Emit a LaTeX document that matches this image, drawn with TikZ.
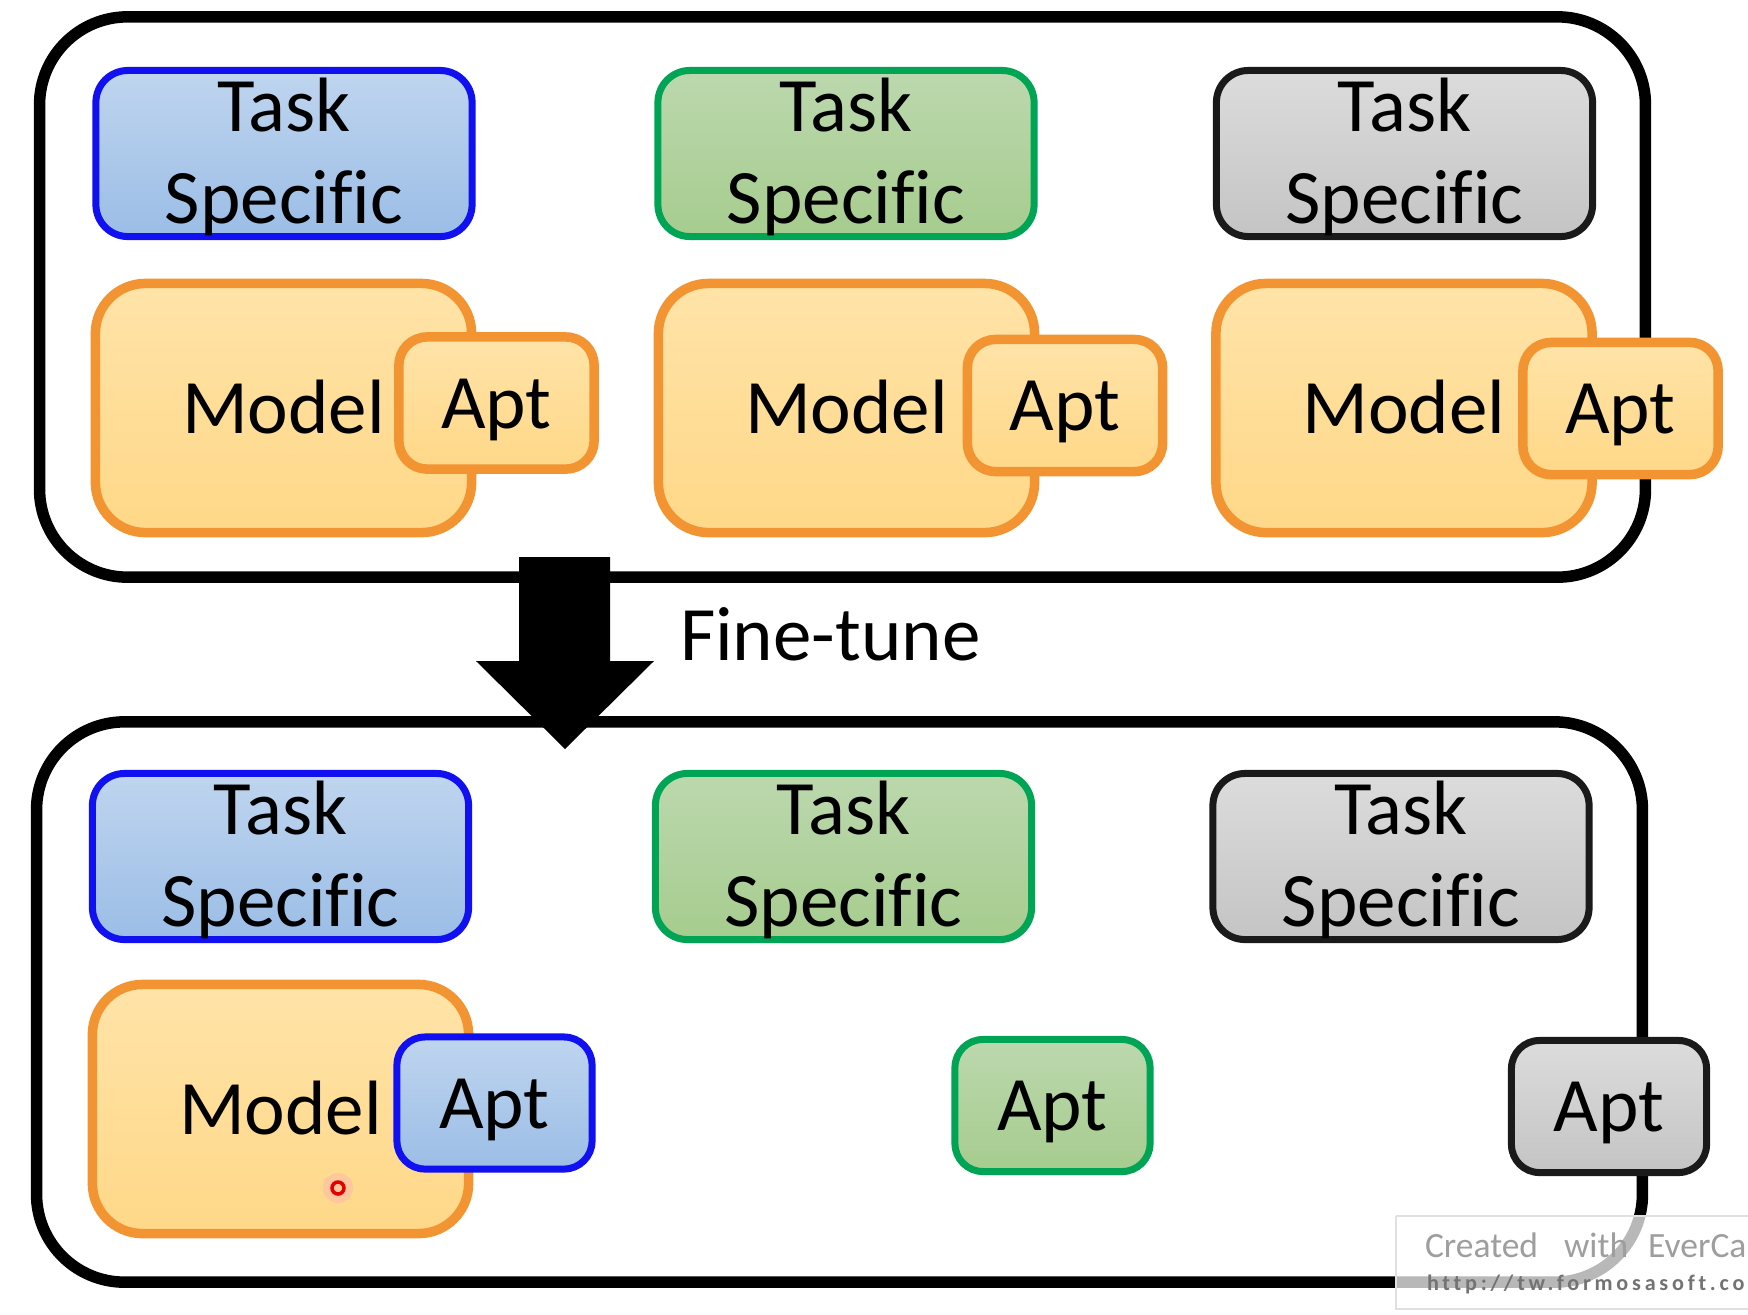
\documentclass[tikz,border=0pt]{standalone}
\usepackage{fontspec}
\setmainfont{Carlito}[Ligatures=NoCommon]
\newfontfamily\wmurl[LetterSpace=17,Ligatures=NoCommon]{Carlito}
\definecolor{blueT}{HTML}{BFD5EF}
\definecolor{blueB}{HTML}{9BBDE6}
\definecolor{blueL}{HTML}{1010F0}
\definecolor{greenT}{HTML}{BCD8AE}
\definecolor{greenB}{HTML}{A6CC8E}
\definecolor{greenL}{HTML}{00A455}
\definecolor{grayT}{HTML}{DCDCDC}
\definecolor{grayB}{HTML}{C4C4C4}
\definecolor{grayL}{HTML}{1A1A1A}
\definecolor{orT}{HTML}{FFE3A8}
\definecolor{orB}{HTML}{FFD888}
\definecolor{orL}{HTML}{F39433}
\begin{document}
\begin{tikzpicture}[x=0.01cm,y=-0.01cm,
  every node/.style={inner sep=0pt,outer sep=0pt},
  bigfont/.style={font=\fontsize{21.9}{26}\selectfont},
  outerbox/.style={draw=black,line width=0.115cm,rounded corners=0.88cm,minimum width=16.05cm,minimum height=5.6cm},
  box/.style={bigfont,text height=0.5cm,text depth=0cm},
  taskbox/.style={box,rounded corners=0.32cm,line width=0.07cm,minimum width=3.76cm,minimum height=1.66cm},
  modelbox/.style={box,draw=orL,top color=orT,bottom color=orB,line width=0.095cm,rounded corners=0.5cm,minimum width=3.76cm,minimum height=2.49cm},
  aptbox/.style={box,rounded corners=0.28cm,minimum width=1.95cm,minimum height=1.32cm},
  cblue/.style={draw=blueL,top color=blueT,bottom color=blueB,line width=0.07cm},
  cgreen/.style={draw=greenL,top color=greenT,bottom color=greenB,line width=0.07cm},
  cgray/.style={draw=grayL,top color=grayT,bottom color=grayB,line width=0.07cm},
  corange/.style={draw=orL,top color=orT,bottom color=orB,line width=0.095cm},
  lbl/.style={bigfont,anchor=base}
]
\useasboundingbox (0,0) rectangle (1748,1314);
\clip (0,0) rectangle (1748,1314);
\fill[white] (0,0) rectangle (1748,1314);

% ---------- top panel ----------
\node[outerbox] (top) at (842.5,297) {};
\node[taskbox,cblue]  (t1) at (284,153.5) {};
\node[taskbox,cgreen] (t2) at (846,153.5) {};
\node[taskbox,cgray]  (t3) at (1404.5,153.5) {};
\foreach \n in {t1,t2,t3}{
  \node[lbl] (\n a) at ([yshift=0.22cm]\n.center) {Task};
  \node[lbl] (\n b) at ([yshift=-0.70cm]\n.center) {Specific};
}
\node[modelbox] (m1) at (283.5,408) {Model};
\node[modelbox] (m2) at (846.5,408) {Model};
\node[modelbox] (m3) at (1404,408) {Model};
\node[aptbox,corange] (a1) at (496.5,403) {Apt};
\node[aptbox,corange] (a2) at (1065,405.5) {Apt};
\node[aptbox,corange] (a3) at (1620.5,408.5) {Apt};

% ---------- bottom panel ----------
\node[outerbox] (bot) at (839.5,1002) {};
\node[taskbox,cblue]  (u1) at (280.5,856.5) {};
\node[taskbox,cgreen] (u2) at (843.5,856.5) {};
\node[taskbox,cgray]  (u3) at (1401,856.5) {};
\foreach \n in {u1,u2,u3}{
  \node[lbl] (\n a) at ([yshift=0.22cm]\n.center) {Task};
  \node[lbl] (\n b) at ([yshift=-0.70cm]\n.center) {Specific};
}
\node[modelbox] (n1) at (280.5,1109) {Model};
\node[aptbox,cblue]  (b1) at (494.5,1103) {Apt};
\node[aptbox,cgreen] (b2) at (1052.5,1105.5) {Apt};
\node[aptbox,cgray]  (b3) at (1609,1106.5) {Apt};

% red pointer mark
\fill[red!30,opacity=0.45] (338,1188) circle (0.15cm);
\draw[red!90!black,line width=0.035cm] (338,1188) circle (0.06cm);

% ---------- fine-tune arrow ----------
\fill[black] (519,557) -- (610,557) -- (610,661) -- (654,661) -- (565,749)
  -- (476,661) -- (519,661) -- cycle;
\node[bigfont,anchor=base west] (ft) at (680,660) {Fine-tune};

% ---------- watermark ----------
\fill[white,opacity=0.72] (1396,1216) rectangle (1760,1309);
\draw[black!12,line width=0.02cm] (1396,1216) -- (1760,1216);
\draw[black!12,line width=0.02cm] (1396,1216) -- (1396,1309) -- (1760,1309);
\node[anchor=base west,text=black!38,font=\fontsize{10.1}{12}\selectfont] (wm1) at (1425,1257)
  {Created\hspace{0.26cm}with\hspace{0.2cm}EverCam};
\node[anchor=base west,text=black!55,font=\wmurl\bfseries\fontsize{6.3}{8}\selectfont] (wm2) at (1427,1290)
  {http://tw.formosasoft.com};
\end{tikzpicture}
\end{document}
